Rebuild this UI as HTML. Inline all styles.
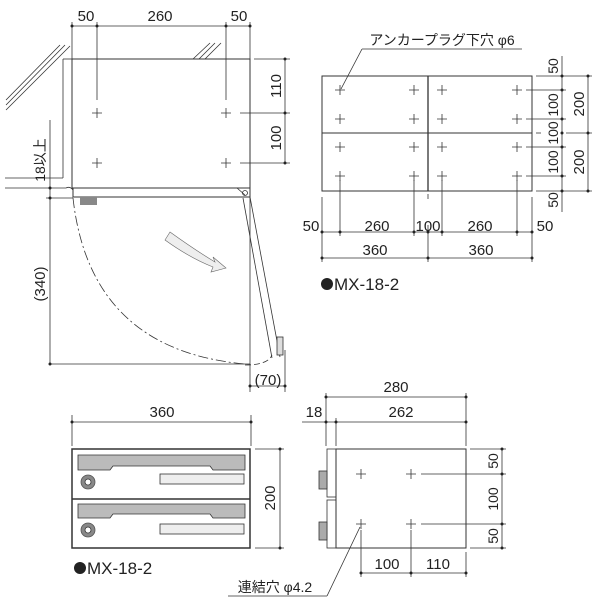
<!DOCTYPE html>
<html><head><style>body{margin:0;background:#fff}svg{display:block}text{font-family:"Liberation Sans","Noto Sans CJK JP",sans-serif;fill:#222}</style></head><body>
<svg width="600" height="600" viewBox="0 0 600 600" xmlns="http://www.w3.org/2000/svg">
<g stroke="#333" stroke-width="0.8" fill="none">
<line x1="72" y1="26" x2="250" y2="26"/>
<line x1="72" y1="22" x2="72" y2="59"/><line x1="97" y1="22" x2="97" y2="100"/><line x1="226" y1="22" x2="226" y2="100"/><line x1="250" y1="22" x2="250" y2="59"/>
<rect x="72" y="59" width="178" height="129" stroke-width="1"/>
<line x1="63" y1="59" x2="72" y2="59"/><line x1="63" y1="59" x2="63" y2="178"/><line x1="5" y1="178" x2="63" y2="178"/>
<path d="M5,188 L66,188 Q70,186 73,190"/>
<line x1="6" y1="100" x2="60" y2="45"/><line x1="6" y1="105" x2="65" y2="45"/><line x1="6" y1="110" x2="70" y2="46"/>
<line x1="193" y1="59" x2="210" y2="43"/><line x1="199" y1="59" x2="215" y2="43"/><line x1="205" y1="59" x2="221" y2="43"/>
<line x1="254" y1="59" x2="290" y2="59"/><line x1="240" y1="113" x2="290" y2="113"/><line x1="240" y1="163" x2="290" y2="163"/>
<line x1="285" y1="59" x2="285" y2="163"/>
<path d="M92,113h10M97,108v10M221,113h10M226,108v10M92,163h10M97,158v10M221,163h10M226,158v10"/>
<rect x="73" y="188" width="177" height="9" stroke-width="1"/>
<circle cx="245" cy="193" r="2.5"/><line x1="237" y1="188" x2="245" y2="195"/>
<line x1="50" y1="120" x2="50" y2="364"/><line x1="46" y1="198" x2="73" y2="198"/>
<line x1="50" y1="364" x2="250" y2="364"/>
<path d="M73,198 Q90,350 245,364" stroke-dasharray="10,3,2,3"/>
<path d="M245,365 Q268,365 272,355" stroke-dasharray="6,3"/>
<line x1="243" y1="198" x2="272" y2="358"/><line x1="250" y1="197" x2="280" y2="357"/>
<rect x="277" y="337" width="6" height="18" fill="#ddd"/>
<line x1="250" y1="197" x2="250" y2="392"/><line x1="285" y1="350" x2="285" y2="392"/>
<line x1="250" y1="386" x2="285" y2="386"/>
<rect x="322" y="76" width="210" height="115" stroke-width="1"/>
<line x1="428" y1="76" x2="428" y2="191" stroke-width="1.3"/><line x1="322" y1="133" x2="532" y2="133" stroke-width="1"/>
<line x1="428" y1="194" x2="428" y2="199"/><line x1="536" y1="133" x2="541" y2="133"/>
<path d="M335,90h10M340,85v10M409,90h10M414,85v10M437,90h10M442,85v10M512,90h10M517,85v10M335,119h10M340,114v10M409,119h10M414,114v10M437,119h10M442,114v10M512,119h10M517,114v10M335,147h10M340,142v10M409,147h10M414,142v10M437,147h10M442,142v10M512,147h10M517,142v10M335,176h10M340,171v10M409,176h10M414,171v10M437,176h10M442,171v10M512,176h10M517,171v10"/>
<line x1="522" y1="49" x2="362" y2="49"/><line x1="362" y1="49" x2="341" y2="89"/>
<line x1="562" y1="56" x2="562" y2="212"/><line x1="588" y1="76" x2="588" y2="191"/>
<line x1="536" y1="76" x2="592" y2="76"/><line x1="526" y1="90" x2="566" y2="90"/><line x1="526" y1="119" x2="566" y2="119"/><line x1="566" y1="133" x2="592" y2="133"/><line x1="526" y1="147" x2="566" y2="147"/><line x1="526" y1="176" x2="566" y2="176"/><line x1="536" y1="191" x2="592" y2="191"/>
<line x1="322" y1="197" x2="322" y2="262"/><line x1="340" y1="180" x2="340" y2="236"/><line x1="414" y1="180" x2="414" y2="236"/><line x1="428" y1="225" x2="428" y2="262"/><line x1="442" y1="180" x2="442" y2="236"/><line x1="517" y1="180" x2="517" y2="236"/><line x1="532" y1="197" x2="532" y2="262"/>
<line x1="322" y1="232" x2="532" y2="232"/><line x1="322" y1="258" x2="532" y2="258"/>
<line x1="72" y1="422" x2="251" y2="422"/><line x1="72" y1="415" x2="72" y2="446"/><line x1="251" y1="415" x2="251" y2="446"/>
<rect x="72" y="449" width="178" height="99" stroke-width="1.5"/>
<line x1="72" y1="499" x2="250" y2="499" stroke-width="1.5"/>
<path d="M78,455H245V470H213L210,466H113L110,470H78Z" fill="#bbb"/>
<path d="M78,504H245V518H213L210,514H113L110,518H78Z" fill="#bbb"/>
<circle cx="88" cy="482" r="7" fill="#888" stroke="#555"/><circle cx="88" cy="482" r="3" fill="#fff"/>
<circle cx="88" cy="530" r="7" fill="#888" stroke="#555"/><circle cx="88" cy="530" r="3" fill="#fff"/>
<rect x="160" y="474" width="84" height="10" fill="#eee"/><rect x="160" y="524" width="84" height="10" fill="#eee"/>
<line x1="255" y1="449" x2="284" y2="449"/><line x1="255" y1="548" x2="284" y2="548"/><line x1="280" y1="449" x2="280" y2="548"/>
<line x1="326" y1="397" x2="466" y2="397"/><line x1="302" y1="422" x2="466" y2="422"/>
<line x1="326" y1="393" x2="326" y2="446"/><line x1="336" y1="418" x2="336" y2="446"/><line x1="466" y1="393" x2="466" y2="446"/>
<rect x="336" y="449" width="130" height="99" stroke-width="1"/>
<rect x="327" y="449" width="9" height="48"/><rect x="327" y="500" width="9" height="48"/>
<rect x="319" y="471" width="8" height="18" fill="#aaa"/><rect x="319" y="522" width="8" height="18" fill="#aaa"/>
<path d="M356,474h10M361,469v10M406,474h10M411,469v10M356,524h10M361,519v10M406,524h10M411,519v10"/>
<line x1="421" y1="474" x2="506" y2="474"/><line x1="421" y1="524" x2="506" y2="524"/><line x1="470" y1="449" x2="506" y2="449"/><line x1="470" y1="548" x2="506" y2="548"/>
<line x1="502" y1="449" x2="502" y2="548"/>
<line x1="361" y1="530" x2="361" y2="577"/><line x1="411" y1="530" x2="411" y2="577"/><line x1="466" y1="552" x2="466" y2="577"/>
<line x1="361" y1="573" x2="466" y2="573"/>
<line x1="228" y1="596" x2="327" y2="596"/><line x1="327" y1="596" x2="360" y2="527"/>
</g>
<g fill="#222">
<circle cx="72" cy="26" r="1.5"/><circle cx="97" cy="26" r="1.5"/><circle cx="226" cy="26" r="1.5"/><circle cx="250" cy="26" r="1.5"/>
<circle cx="285" cy="59" r="1.5"/><circle cx="285" cy="113" r="1.5"/><circle cx="285" cy="163" r="1.5"/>
<circle cx="50" cy="188" r="1.5"/><circle cx="50" cy="198" r="1.5"/><circle cx="50" cy="364" r="1.5"/><circle cx="250" cy="386" r="1.5"/><circle cx="285" cy="386" r="1.5"/>
<circle cx="562" cy="76" r="1.5"/><circle cx="562" cy="90" r="1.5"/><circle cx="562" cy="119" r="1.5"/><circle cx="562" cy="133" r="1.5"/><circle cx="562" cy="147" r="1.5"/><circle cx="562" cy="176" r="1.5"/><circle cx="562" cy="191" r="1.5"/>
<circle cx="588" cy="76" r="1.5"/><circle cx="588" cy="133" r="1.5"/><circle cx="588" cy="191" r="1.5"/>
<circle cx="322" cy="232" r="1.5"/><circle cx="340" cy="232" r="1.5"/><circle cx="414" cy="232" r="1.5"/><circle cx="428" cy="232" r="1.5"/><circle cx="442" cy="232" r="1.5"/><circle cx="517" cy="232" r="1.5"/><circle cx="532" cy="232" r="1.5"/>
<circle cx="322" cy="258" r="1.5"/><circle cx="428" cy="258" r="1.5"/><circle cx="532" cy="258" r="1.5"/>
<circle cx="72" cy="422" r="1.5"/><circle cx="251" cy="422" r="1.5"/><circle cx="280" cy="449" r="1.5"/><circle cx="280" cy="548" r="1.5"/>
<circle cx="326" cy="397" r="1.5"/><circle cx="466" cy="397" r="1.5"/><circle cx="326" cy="422" r="1.5"/><circle cx="336" cy="422" r="1.5"/><circle cx="466" cy="422" r="1.5"/>
<circle cx="502" cy="449" r="1.5"/><circle cx="502" cy="474" r="1.5"/><circle cx="502" cy="524" r="1.5"/><circle cx="502" cy="548" r="1.5"/>
<circle cx="361" cy="573" r="1.5"/><circle cx="411" cy="573" r="1.5"/><circle cx="466" cy="573" r="1.5"/>
<circle cx="327" cy="284" r="6"/><circle cx="80" cy="568" r="6"/>
</g>
<rect x="80" y="197" width="17" height="8" fill="#888"/>
<path d="M170,232 Q195,250 215,262 L213,257 L226,268 L211,272 L213,267 Q190,258 165,240 Z" fill="#eee" stroke="#666" stroke-width="0.6"/>
<g font-size="15" text-anchor="middle">
<text x="86" y="21">50</text><text x="160" y="21">260</text><text x="239" y="21">50</text>
<text transform="translate(281,86) rotate(-90)">110</text><text transform="translate(281,138) rotate(-90)">100</text>
<text transform="translate(45,160) rotate(-90)" font-size="14">18以上</text>
<text transform="translate(45,284) rotate(-90)">(340)</text>
<text x="268" y="385">(70)</text>
<text x="442" y="45" font-size="14">アンカープラグ下穴 φ6</text>
<text transform="translate(558,66) rotate(-90)" font-size="14">50</text>
<text transform="translate(558,105) rotate(-90)" font-size="14">100</text>
<text transform="translate(558,133) rotate(-90)" font-size="14">100</text>
<text transform="translate(558,162) rotate(-90)" font-size="14">100</text>
<text transform="translate(558,200) rotate(-90)" font-size="14">50</text>
<text transform="translate(584,104) rotate(-90)">200</text><text transform="translate(584,162) rotate(-90)">200</text>
<text x="311" y="231">50</text><text x="377" y="231">260</text><text x="428" y="231">100</text><text x="480" y="231">260</text><text x="545" y="231">50</text>
<text x="375" y="255">360</text><text x="481" y="255">360</text>
<text x="162" y="417">360</text><text transform="translate(275,498) rotate(-90)">200</text>
<text x="396" y="392">280</text><text x="314" y="417">18</text><text x="401" y="417">262</text>
<text transform="translate(498,461) rotate(-90)" font-size="14">50</text>
<text transform="translate(498,499) rotate(-90)" font-size="14">100</text>
<text transform="translate(498,536) rotate(-90)" font-size="14">50</text>
<text x="387" y="569">100</text><text x="438" y="569">110</text>
<text x="275" y="592" font-size="14">連結穴 φ4.2</text>
</g>
<text x="334" y="290" font-size="17">MX-18-2</text>
<text x="87" y="574" font-size="17">MX-18-2</text>
</svg>
</body></html>
